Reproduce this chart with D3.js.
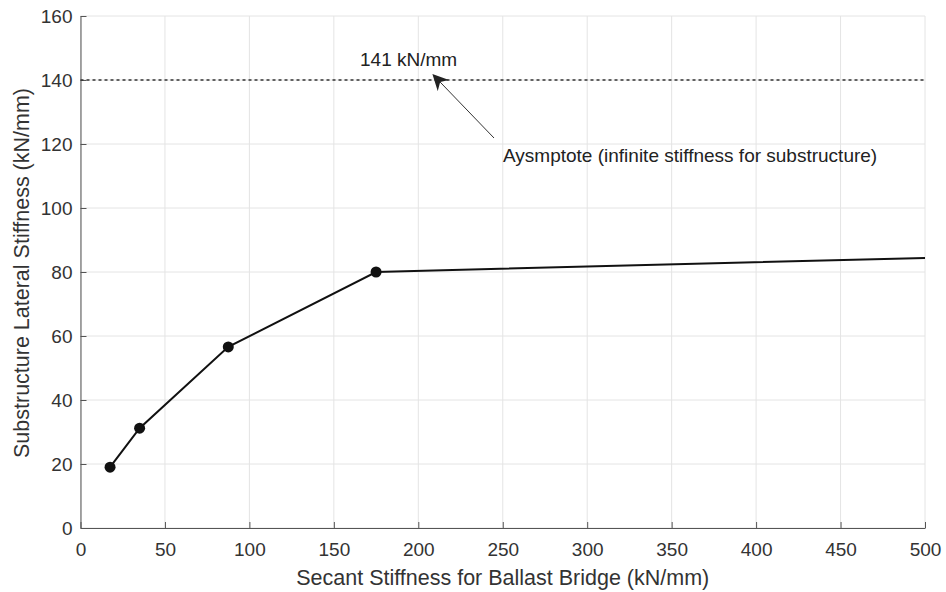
<!DOCTYPE html>
<html lang="en">
<head>
<meta charset="UTF-8">
<title>Stiffness</title>
<script src="https://cdnjs.cloudflare.com/ajax/libs/d3/7.8.5/d3.min.js"></script>
<style>
  body { margin: 0; background: #fff; }
  svg { font-family: "Liberation Sans", Arial, sans-serif; }
</style>
</head>
<body>
<svg width="946" height="592"></svg>
<script>
    // values
    const secant = [17.5, 35, 87.5, 175, 500];
    const lateral = [19, 31.2, 56.6, 80, 84.4];
    const markerCount = 4; // last point has no marker
    const asymptote = 140;
    const xTicks = [0, 50, 100, 150, 200, 250, 300, 350, 400, 450, 500];
    const yTicks = [0, 20, 40, 60, 80, 100, 120, 140, 160];

    const svg = d3.select("svg");
    const mLeft = 80.5, mRight = 925, mTop = 16, mBottom = 528;

    const x = d3.scaleLinear().domain([0, 500]).range([mLeft, mRight]);
    const y = d3.scaleLinear().domain([0, 160]).range([mBottom, mTop]);

    // grid
    svg.append("g").selectAll("line").data(xTicks).enter().append("line")
        .attr("x1", d => x(d)).attr("x2", d => x(d))
        .attr("y1", mTop).attr("y2", mBottom)
        .attr("stroke", "#e4e4e4").attr("stroke-width", 1);
    svg.append("g").selectAll("line").data(yTicks).enter().append("line")
        .attr("x1", mLeft).attr("x2", mRight)
        .attr("y1", d => y(d)).attr("y2", d => y(d))
        .attr("stroke", "#e4e4e4").attr("stroke-width", 1);

    // axes (inward ticks)
    const xAxis = svg.append("g")
        .attr("transform", `translate(0,${mBottom})`)
        .call(d3.axisBottom(x).tickValues(xTicks).tickSizeInner(-6).tickSizeOuter(0).tickPadding(15));
    const yAxis = svg.append("g")
        .attr("transform", `translate(${mLeft},0)`)
        .call(d3.axisLeft(y).tickValues(yTicks).tickSizeInner(-6).tickSizeOuter(0).tickPadding(8));

    [xAxis, yAxis].forEach(a => {
        a.select(".domain").attr("stroke", "#555");
        a.selectAll(".tick line").attr("stroke", "#555");
        a.selectAll("text").attr("font-size", 19).attr("fill", "#333")
            .attr("font-family", "Liberation Sans, Arial, sans-serif");
    });

    // asymptote
    svg.append("line")
        .attr("x1", mLeft).attr("x2", mRight)
        .attr("y1", y(asymptote)).attr("y2", y(asymptote))
        .attr("stroke", "#333").attr("stroke-width", 1.3)
        .attr("stroke-dasharray", "3,3");

    // curve
    const pts = secant.map((d, i) => [d, lateral[i]]);
    svg.append("path")
        .datum(pts)
        .attr("fill", "none")
        .attr("stroke", "#111")
        .attr("stroke-width", 2)
        .attr("d", d3.line().x(d => x(d[0])).y(d => y(d[1])));

    svg.append("g").selectAll("circle").data(pts.slice(0, markerCount)).enter().append("circle")
        .attr("cx", d => x(d[0])).attr("cy", d => y(d[1]))
        .attr("r", 5.5).attr("fill", "#111");

    // annotations
    svg.append("defs").append("marker")
        .attr("id", "arr").attr("viewBox", "0 0 10 10")
        .attr("refX", 9).attr("refY", 5)
        .attr("markerWidth", 16).attr("markerHeight", 16)
        .attr("markerUnits", "userSpaceOnUse")
        .attr("orient", "auto")
        .append("path").attr("d", "M0,0 L10,5 L0,10 L3,5 Z").attr("fill", "#222");

    svg.append("line")
        .attr("x1", 494).attr("y1", 138)
        .attr("x2", x(209)).attr("y2", y(141.5))
        .attr("stroke", "#333").attr("stroke-width", 1)
        .attr("marker-end", "url(#arr)");

    svg.append("text")
        .attr("x", 360).attr("y", 66)
        .attr("font-size", 19).attr("fill", "#222")
        .text("141 kN/mm");

    svg.append("text")
        .attr("x", 503).attr("y", 162)
        .attr("font-size", 19).attr("fill", "#222")
        .text("Aysmptote (infinite stiffness for substructure)");

    // axis titles
    svg.append("text")
        .attr("x", (mLeft + mRight) / 2).attr("y", 585)
        .attr("text-anchor", "middle")
        .attr("font-size", 21.5).attr("fill", "#333")
        .text("Secant Stiffness for Ballast Bridge (kN/mm)");

    svg.append("text")
        .attr("transform", `translate(29,273) rotate(-90)`)
        .attr("text-anchor", "middle")
        .attr("font-size", 21.5).attr("fill", "#333")
        .text("Substructure Lateral Stiffness (kN/mm)");
</script>
</body>
</html>
